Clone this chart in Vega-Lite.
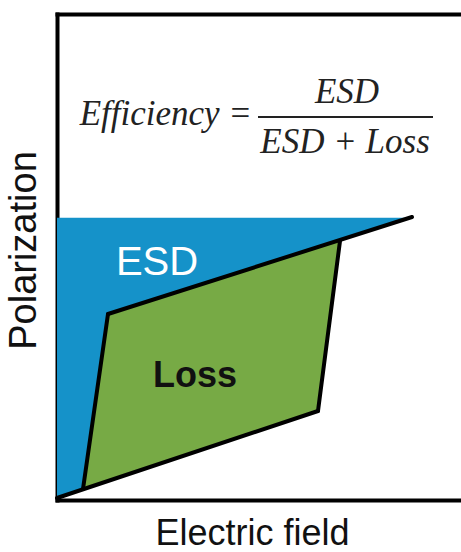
{
  "$schema": "https://vega.github.io/schema/vega-lite/v6.json",
  "width": 404,
  "height": 486,
  "autosize": "none",
  "padding": {"left": 57, "top": 14, "right": 0, "bottom": 52},
  "background": "white",
  "config": {"view": {"stroke": null}},
  "datasets": {
    "esd": [
      {"x": 0, "y": 282, "o": 1},
      {"x": 355, "y": 282, "o": 2},
      {"x": 51, "y": 186, "o": 3},
      {"x": 26, "y": 11, "o": 4},
      {"x": 0, "y": 2, "o": 5}
    ],
    "loss": [
      {"x": 51, "y": 186, "o": 1},
      {"x": 283, "y": 259, "o": 2},
      {"x": 261, "y": 89, "o": 3},
      {"x": 26, "y": 11, "o": 4}
    ],
    "segs": [
      {"seg": "upper", "x": 51, "y": 186, "o": 1},
      {"seg": "upper", "x": 355, "y": 283, "o": 2},
      {"seg": "left", "x": 26, "y": 11, "o": 1},
      {"seg": "left", "x": 51, "y": 186, "o": 2},
      {"seg": "right", "x": 283, "y": 259, "o": 1},
      {"seg": "right", "x": 261, "y": 89, "o": 2},
      {"seg": "lower", "x": 0, "y": 2, "o": 1},
      {"seg": "lower", "x": 261, "y": 89, "o": 2}
    ]
  },
  "layer": [
    {
      "data": {"name": "esd"},
      "mark": {"type": "line", "fill": "#1592C9", "stroke": "#1592C9", "strokeWidth": 0.5, "fillOpacity": 1},
      "encoding": {
        "x": {"field": "x", "type": "quantitative", "scale": {"domain": [0, 404], "nice": false, "zero": false},
              "axis": {"orient": "bottom", "title": "Electric field", "ticks": false, "labels": false, "grid": false,
                       "domainColor": "black", "domainWidth": 4, "domainCap": "square",
                       "titleFont": "Liberation Sans", "titleFontSize": 36, "titleFontWeight": "normal", "titleColor": "#111",
                       "titlePadding": 16, "titleX": 195}},
        "y": {"field": "y", "type": "quantitative", "scale": {"domain": [0, 486], "nice": false, "zero": false},
              "axis": {"orient": "left", "title": "Polarization", "ticks": false, "labels": false, "grid": false,
                       "domainColor": "black", "domainWidth": 4, "domainCap": "square",
                       "titleFont": "Liberation Sans", "titleFontSize": 38, "titleFontWeight": "normal", "titleColor": "#111",
                       "titlePadding": 14, "titleY": 236}},
        "order": {"field": "o", "type": "quantitative"}
      }
    },
    {
      "data": {"name": "loss"},
      "mark": {"type": "line", "fill": "#77AA45", "stroke": "#77AA45", "strokeWidth": 0.5, "fillOpacity": 1},
      "encoding": {
        "x": {"field": "x", "type": "quantitative", "axis": null},
        "y": {"field": "y", "type": "quantitative", "axis": null},
        "order": {"field": "o", "type": "quantitative"}
      }
    },
    {
      "data": {"name": "segs"},
      "mark": {"type": "line", "color": "black", "strokeWidth": 4, "strokeCap": "round"},
      "encoding": {
        "x": {"field": "x", "type": "quantitative", "axis": null},
        "y": {"field": "y", "type": "quantitative", "axis": null},
        "detail": {"field": "seg", "type": "nominal"},
        "order": {"field": "o", "type": "quantitative"}
      }
    },
    {
      "data": {"values": [{"label": "ESD", "x": 100, "y": 225}]},
      "mark": {"type": "text", "font": "Liberation Sans", "fontSize": 40, "color": "white", "align": "center", "baseline": "alphabetic"},
      "encoding": {
        "x": {"field": "x", "type": "quantitative", "axis": null},
        "y": {"field": "y", "type": "quantitative", "axis": null},
        "text": {"field": "label"}
      }
    },
    {
      "data": {"values": [{"label": "Loss", "x": 138, "y": 113}]},
      "mark": {"type": "text", "font": "Liberation Sans", "fontSize": 36, "fontWeight": "bold", "color": "#111", "align": "center", "baseline": "alphabetic"},
      "encoding": {
        "x": {"field": "x", "type": "quantitative", "axis": null},
        "y": {"field": "y", "type": "quantitative", "axis": null},
        "text": {"field": "label"}
      }
    },
    {
      "data": {"values": [{"label": "Efficiency =", "x": 195, "y": 375}]},
      "mark": {"type": "text", "font": "Liberation Serif", "fontSize": 35, "fontStyle": "italic", "color": "#222", "align": "right", "baseline": "alphabetic"},
      "encoding": {
        "x": {"field": "x", "type": "quantitative", "axis": null},
        "y": {"field": "y", "type": "quantitative", "axis": null},
        "text": {"field": "label"}
      }
    },
    {
      "data": {"values": [
        {"label": "ESD", "x": 290, "y": 397},
        {"label": "ESD + Loss", "x": 288, "y": 347}
      ]},
      "mark": {"type": "text", "font": "Liberation Serif", "fontSize": 35, "fontStyle": "italic", "color": "#222", "align": "center", "baseline": "alphabetic"},
      "encoding": {
        "x": {"field": "x", "type": "quantitative", "axis": null},
        "y": {"field": "y", "type": "quantitative", "axis": null},
        "text": {"field": "label"}
      }
    },
    {
      "data": {"values": [{"x": 201, "x2": 376, "y": 383}]},
      "mark": {"type": "rule", "color": "#222", "strokeWidth": 2},
      "encoding": {
        "x": {"field": "x", "type": "quantitative",
              "axis": {"orient": "top", "title": null, "ticks": false, "labels": false, "grid": false,
                       "domainColor": "black", "domainWidth": 4, "domainCap": "square"}},
        "x2": {"field": "x2"},
        "y": {"field": "y", "type": "quantitative", "axis": null}
      }
    }
  ],
  "resolve": {"axis": {"x": "independent", "y": "independent"}}
}
